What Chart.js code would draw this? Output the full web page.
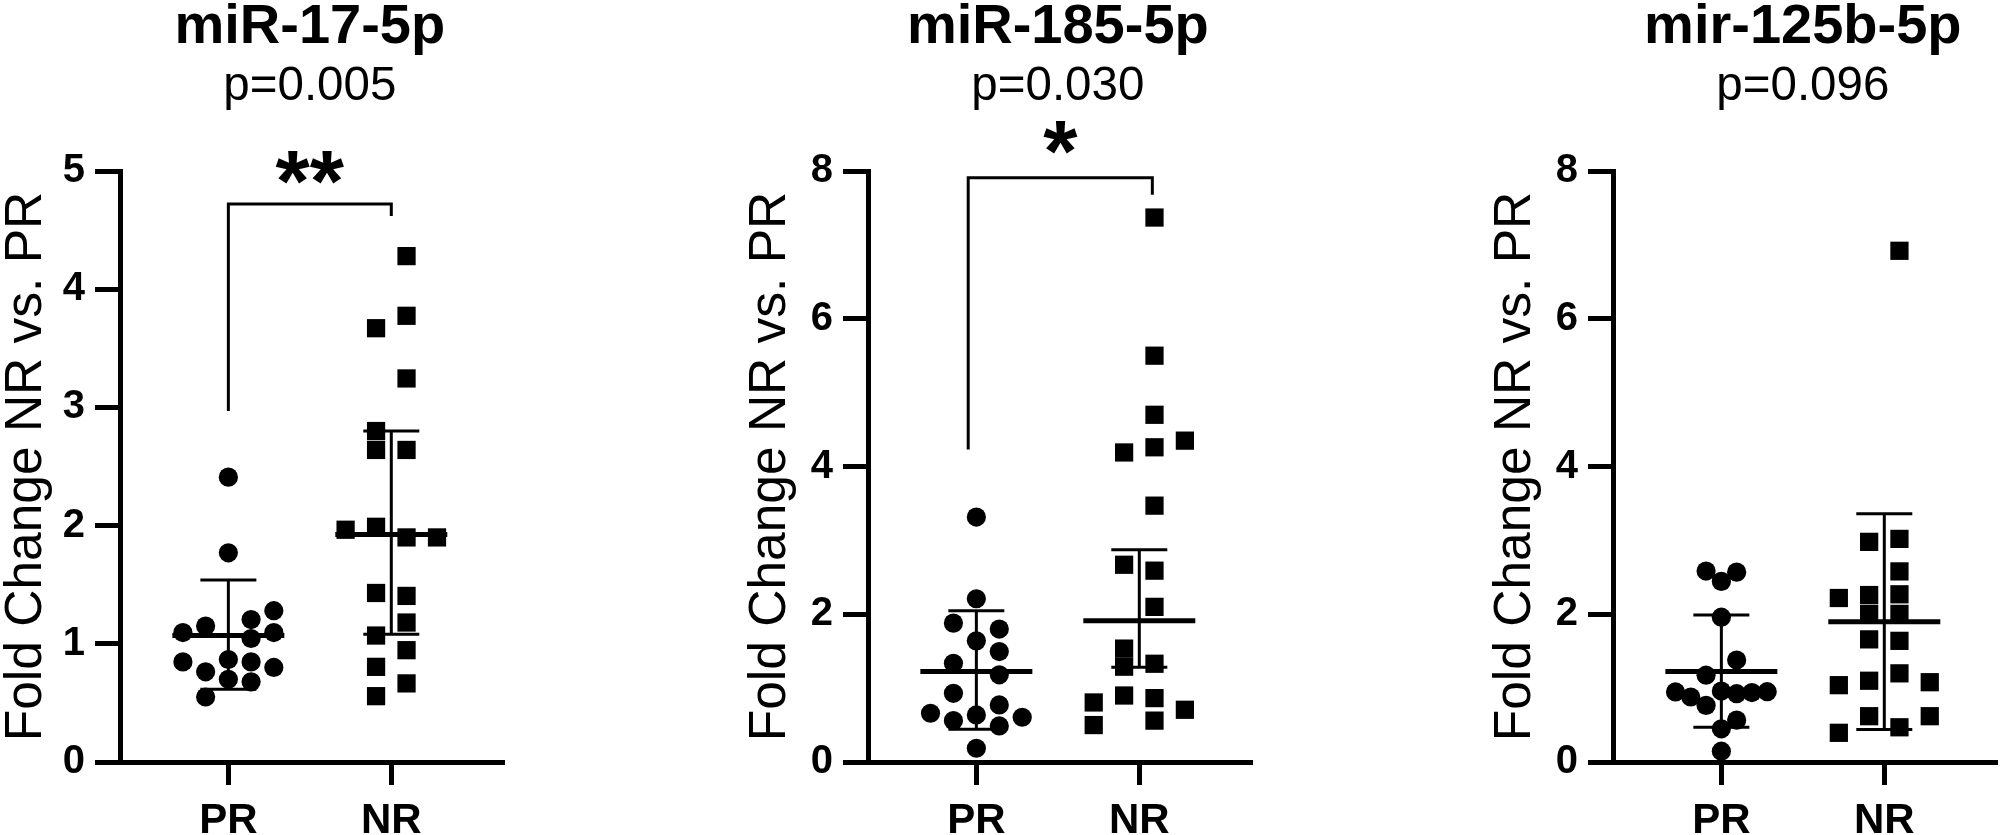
<!DOCTYPE html>
<html><head><meta charset="utf-8">
<script src="https://cdn.jsdelivr.net/npm/chart.js@4.4.1/dist/chart.umd.min.js"></script>
<style>
html,body{margin:0;padding:0;background:#fff;width:2008px;height:835px;overflow:hidden;position:relative}
.panel{position:absolute;top:0;width:519px;height:835px}
</style></head><body>
<div class="panel" style="left:-4px"><canvas id="c0" width="519" height="835"></canvas></div>
<div class="panel" style="left:744px"><canvas id="c1" width="519" height="835"></canvas></div>
<div class="panel" style="left:1489px"><canvas id="c2" width="519" height="835"></canvas></div>
<script>
// ---------------- data ----------------
const categories = ['PR', 'NR'];
const panelTitles = ['miR-17-5p', 'miR-185-5p', 'mir-125b-5p'];
const pValues = ['p=0.005', 'p=0.030', 'p=0.096'];
const yAxisTitle = 'Fold Change NR vs. PR';
const yMaxes = [5, 8, 8];
const yStepSizes = [1, 2, 2];

// miR-17-5p
const mir17_PR = [2.41, 1.77, 1.095, 1.15, 1.205, 1.28, 1.095, 1.045, 0.847, 0.867, 0.847, 0.763, 0.80, 0.70, 0.678, 0.55];
const mir17_PR_lane = [0, 0, -2, -1, 1, 2, 2, 1, -2, 0, 1, -1, 2, 0, 1, -1];
const mir17_NR = [4.28, 3.775, 3.67, 3.245, 2.80, 2.64, 2.64, 1.965, 1.99, 1.90, 1.90, 1.43, 1.405, 1.18, 1.07, 0.946, 0.805, 0.665, 0.557];
const mir17_NR_lane = [0.5, 0.5, -0.5, 0.5, -0.5, -0.5, 0.5, -1.5, -0.5, 0.5, 1.5, -0.5, 0.5, 0.5, -0.5, 0.5, -0.5, 0.5, -0.5];
const mir17_mean = [1.07, 1.925];
const mir17_errLow = [0.615, 1.08];
const mir17_errHigh = [1.54, 2.80];

// miR-185-5p
const mir185_PR = [3.316, 2.21, 1.88, 1.80, 1.64, 1.495, 1.337, 1.18, 0.93, 0.772, 0.66, 0.637, 0.56, 0.606, 0.488, 0.186];
const mir185_PR_lane = [0, 0, -1, 1, 0, 1, -1, 1, -1, 1, -2, 0, -1, 2, 1, 0];
const mir185_NR = [7.37, 5.50, 4.70, 4.35, 4.26, 4.19, 3.47, 2.67, 2.59, 2.10, 1.535, 1.29, 1.33, 0.90, 0.865, 0.806, 0.707, 0.56, 0.50];
const mir185_NR_lane = [0.5, 0.5, 0.5, 1.5, 0.5, -0.5, 0.5, -0.5, 0.5, 0.5, -0.5, -0.5, 0.5, -0.5, 0.5, -1.5, 1.5, 0.5, -1.5];
const mir185_mean = [1.224, 1.913];
const mir185_errLow = [0.443, 1.283];
const mir185_errHigh = [2.046, 2.874];

// mir-125b-5p
const mir125b_PR = [2.585, 2.57, 2.445, 1.96, 1.38, 1.175, 0.948, 0.88, 0.96, 0.925, 0.94, 0.952, 0.766, 0.567, 0.449, 0.146];
const mir125b_PR_lane = [-1, 1, 0, 0, 1, -1, -3, -2, 0, 1, 2, 3, -1, 1, 0, 0];
const mir125b_NR = [6.92, 2.98, 3.02, 2.58, 2.22, 2.26, 2.27, 2.005, 2.005, 1.66, 1.64, 1.20, 1.04, 1.10, 1.08, 0.62, 0.62, 0.395, 0.47];
const mir125b_NR_lane = [0.5, -0.5, 0.5, 0.5, -1.5, -0.5, 0.5, -0.5, 0.5, -0.5, 0.5, 0.5, -1.5, -0.5, 1.5, -0.5, 1.5, -1.5, 0.5];
const mir125b_mean = [1.224, 1.90];
const mir125b_errLow = [0.472, 0.44];
const mir125b_errHigh = [1.99, 3.36];

// significance brackets: [xLeft, xRight, yTop, yLeftEnd, yRightEnd] and star label / star y
const mir17_bracket = [0, 1, 4.72, 2.97, 4.62];
const mir185_bracket = [-0.05, 1.08, 7.91, 4.23, 7.68];
const sigStars = ['**', '*', ''];
const sigStarY = [5.03, 8.45, null];

// ---------------- styling ----------------
const FONT = '"Liberation Sans", Arial, Helvetica, sans-serif';
const laneSteps = [[0.1395, 0.187], [0.1407, 0.1865], [0.0938, 0.186]];
const yTitlePad = [5, 1, 1];

const panels = [
  {groups: [mir17_PR, mir17_NR], lanes: [mir17_PR_lane, mir17_NR_lane], mean: mir17_mean, low: mir17_errLow, high: mir17_errHigh, bracket: mir17_bracket},
  {groups: [mir185_PR, mir185_NR], lanes: [mir185_PR_lane, mir185_NR_lane], mean: mir185_mean, low: mir185_errLow, high: mir185_errHigh, bracket: mir185_bracket},
  {groups: [mir125b_PR, mir125b_NR], lanes: [mir125b_PR_lane, mir125b_NR_lane], mean: mir125b_mean, low: mir125b_errLow, high: mir125b_errHigh, bracket: null}
];

const overlay = {
  id: 'overlay',
  afterDatasetsDraw(chart, args, o) {
    const ctx = chart.ctx, xs = chart.scales.x, ys = chart.scales.y;
    ctx.save();
    ctx.strokeStyle = '#000';
    ctx.fillStyle = '#000';
    ctx.lineCap = 'butt';
    o.mean.forEach((m, g) => {
      const cx = xs.getPixelForValue(g);
      const yM = ys.getPixelForValue(m), yL = ys.getPixelForValue(o.low[g]), yH = ys.getPixelForValue(o.high[g]);
      ctx.lineWidth = 3;
      ctx.beginPath();
      ctx.moveTo(cx, yH); ctx.lineTo(cx, yL);
      ctx.moveTo(cx - 28, yH); ctx.lineTo(cx + 28, yH);
      ctx.moveTo(cx - 28, yL); ctx.lineTo(cx + 28, yL);
      ctx.stroke();
      ctx.lineWidth = 5;
      ctx.beginPath();
      ctx.moveTo(cx - 56, yM); ctx.lineTo(cx + 56, yM);
      ctx.stroke();
    });
    if (o.bracket) {
      const b = o.bracket;
      const xl = xs.getPixelForValue(b[0]), xr = xs.getPixelForValue(b[1]);
      const yt = ys.getPixelForValue(b[2]);
      ctx.lineWidth = 3;
      ctx.lineJoin = 'miter';
      ctx.beginPath();
      ctx.moveTo(xl, ys.getPixelForValue(b[3]));
      ctx.lineTo(xl, yt);
      ctx.lineTo(xr, yt);
      ctx.lineTo(xr, ys.getPixelForValue(b[4]));
      ctx.stroke();
      if (o.stars) {
        ctx.font = 'bold 88px ' + FONT;
        ctx.textAlign = 'center';
        ctx.textBaseline = 'alphabetic';
        const mt = ctx.measureText(o.stars);
        const py = ys.getPixelForValue(o.starY);
        const base = py + (mt.actualBoundingBoxAscent - mt.actualBoundingBoxDescent) / 2;
        ctx.fillText(o.stars, xs.getPixelForValue((b[0] + b[1]) / 2), base);
      }
    }
    ctx.restore();
  },
  afterDraw(chart, args, o) {
    const ctx = chart.ctx, xs = chart.scales.x;
    const cx = xs.getPixelForValue(0.5);
    ctx.save();
    ctx.fillStyle = '#000';
    ctx.textAlign = 'center';
    ctx.textBaseline = 'alphabetic';
    ctx.font = 'bold 56px ' + FONT;
    ctx.fillText(o.title, cx, 43);
    ctx.font = '47.5px ' + FONT;
    ctx.fillText(o.pText, cx, 100);
    ctx.restore();
  }
};

panels.forEach((p, i) => {
  const datasets = p.groups.map((vals, g) => ({
    type: 'scatter',
    data: vals.map((v, k) => ({x: g + p.lanes[g][k] * laneSteps[i][g], y: v})),
    pointStyle: g === 0 ? 'circle' : 'rect',
    pointRadius: g === 0 ? 9.6 : 12.9,
    pointBackgroundColor: '#000',
    pointBorderWidth: 0,
    pointBorderColor: '#000',
    showLine: false
  }));
  new Chart(document.getElementById('c' + i), {
    type: 'scatter',
    data: {datasets},
    plugins: [overlay],
    options: {
      responsive: false,
      animation: false,
      devicePixelRatio: 1,
      events: [],
      layout: {padding: {top: 171, left: 0, right: 0, bottom: 0}},
      plugins: {
        legend: {display: false},
        tooltip: {enabled: false},
        overlay: {
          title: panelTitles[i], pText: pValues[i],
          mean: p.mean, low: p.low, high: p.high,
          bracket: p.bracket, stars: sigStars[i], starY: sigStarY[i]
        }
      },
      scales: {
        x: {
          type: 'linear', min: -0.665, max: 1.68,
          afterBuildTicks: s => { s.ticks = categories.map((c, k) => ({value: k})); },
          afterFit: s => { s.height = 73; },
          ticks: {
            callback: v => categories[v],
            color: '#000', font: {family: FONT, size: 42, weight: 'bold', lineHeight: 1.2},
            padding: 11, maxRotation: 0, autoSkip: false
          },
          grid: {display: true, drawOnChartArea: false, drawTicks: true, tickLength: 23, lineWidth: 5, color: '#000'},
          border: {display: true, width: 5, color: '#000'}
        },
        y: {
          type: 'linear', min: 0, max: yMaxes[i],
          afterFit: s => { s.width = 124; },
          ticks: {
            stepSize: yStepSizes[i], color: '#000',
            font: {family: FONT, size: 40, weight: 'bold'}, padding: 10
          },
          title: {
            display: true, text: yAxisTitle, color: '#000',
            font: {family: FONT, size: 51.5, lineHeight: 1}, padding: {top: yTitlePad[i], bottom: 0}
          },
          grid: {display: true, drawOnChartArea: false, drawTicks: true, tickLength: 25, lineWidth: 5, color: '#000'},
          border: {display: true, width: 5, color: '#000'}
        }
      }
    }
  });
});
</script>
</body></html>
